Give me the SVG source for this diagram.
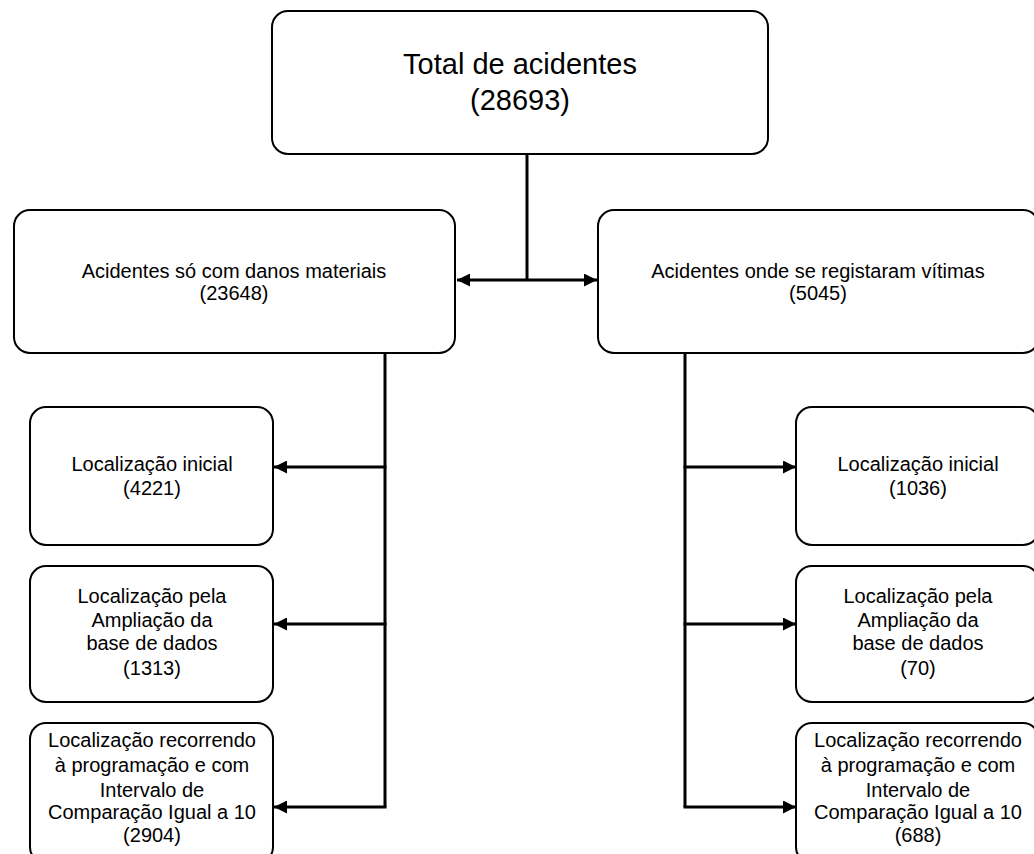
<svg xmlns="http://www.w3.org/2000/svg" width="1034" height="854" viewBox="0 0 1034 854">
<style>
.box{fill:#fff;stroke:#000;stroke-width:2}
.t{font-family:"Liberation Sans",Arial,sans-serif;font-size:20px;fill:#000;text-anchor:middle}
.big{font-size:29px}
.c{fill:none;stroke:#000;stroke-width:3}
</style>
<defs>
<marker id="ah" markerUnits="userSpaceOnUse" markerWidth="13" markerHeight="13" refX="13" refY="6.5" orient="auto">
<path d="M0,0 L13,6.5 L0,13 z" fill="#000"/>
</marker>
</defs>
<rect width="1034" height="854" fill="#fff"/>
<g id="connectors">
<path class="c" d="M527,154 V280"/>
<path class="c" d="M527,280 H457" marker-end="url(#ah)"/>
<path class="c" d="M527,280 H597" marker-end="url(#ah)"/>
<path class="c" d="M385,353 V807"/>
<path class="c" d="M386.5,467 H274" marker-end="url(#ah)"/>
<path class="c" d="M386.5,624 H274" marker-end="url(#ah)"/>
<path class="c" d="M386.5,807 H274" marker-end="url(#ah)"/>
<path class="c" d="M685,353 V807"/>
<path class="c" d="M683.5,467 H796" marker-end="url(#ah)"/>
<path class="c" d="M683.5,624 H796" marker-end="url(#ah)"/>
<path class="c" d="M683.5,807 H796" marker-end="url(#ah)"/>
</g>
<g id="total">
<rect class="box" x="272" y="11" width="496" height="143" rx="16"/>
<text class="t big" x="520" y="74">Total de acidentes</text>
<text class="t big" x="520" y="110">(28693)</text>
</g>
<g id="materiais">
<rect class="box" x="14" y="210" width="441" height="143" rx="16"/>
<text class="t" x="234" y="278">Acidentes só com danos materiais</text>
<text class="t" x="234" y="300">(23648)</text>
</g>
<g id="vitimas">
<rect class="box" x="598" y="210" width="441" height="143" rx="16"/>
<text class="t" x="818" y="278">Acidentes onde se registaram vítimas</text>
<text class="t" x="818" y="300">(5045)</text>
</g>
<g id="l1">
<rect class="box" x="30" y="407" width="243" height="138" rx="16"/>
<text class="t" x="152" y="471">Localização inicial</text>
<text class="t" x="152" y="495">(4221)</text>
</g>
<g id="l2">
<rect class="box" x="30" y="566" width="243" height="136" rx="16"/>
<text class="t" x="152" y="603">Localização pela</text>
<text class="t" x="152" y="627">Ampliação da</text>
<text class="t" x="152" y="650">base de dados</text>
<text class="t" x="152" y="675">(1313)</text>
</g>
<g id="l3">
<rect class="box" x="30" y="723" width="243" height="140" rx="16"/>
<text class="t" x="152" y="747">Localização recorrendo</text>
<text class="t" x="152" y="772">à programação e com</text>
<text class="t" x="152" y="797">Intervalo de</text>
<text class="t" x="152" y="819">Comparação Igual a 10</text>
<text class="t" x="152" y="842">(2904)</text>
</g>
<g id="r1">
<rect class="box" x="796" y="407" width="243" height="138" rx="16"/>
<text class="t" x="918" y="471">Localização inicial</text>
<text class="t" x="918" y="495">(1036)</text>
</g>
<g id="r2">
<rect class="box" x="796" y="566" width="243" height="136" rx="16"/>
<text class="t" x="918" y="603">Localização pela</text>
<text class="t" x="918" y="627">Ampliação da</text>
<text class="t" x="918" y="650">base de dados</text>
<text class="t" x="918" y="675">(70)</text>
</g>
<g id="r3">
<rect class="box" x="796" y="723" width="243" height="140" rx="16"/>
<text class="t" x="918" y="747">Localização recorrendo</text>
<text class="t" x="918" y="772">à programação e com</text>
<text class="t" x="918" y="797">Intervalo de</text>
<text class="t" x="918" y="819">Comparação Igual a 10</text>
<text class="t" x="918" y="842">(688)</text>
</g>
</svg>
